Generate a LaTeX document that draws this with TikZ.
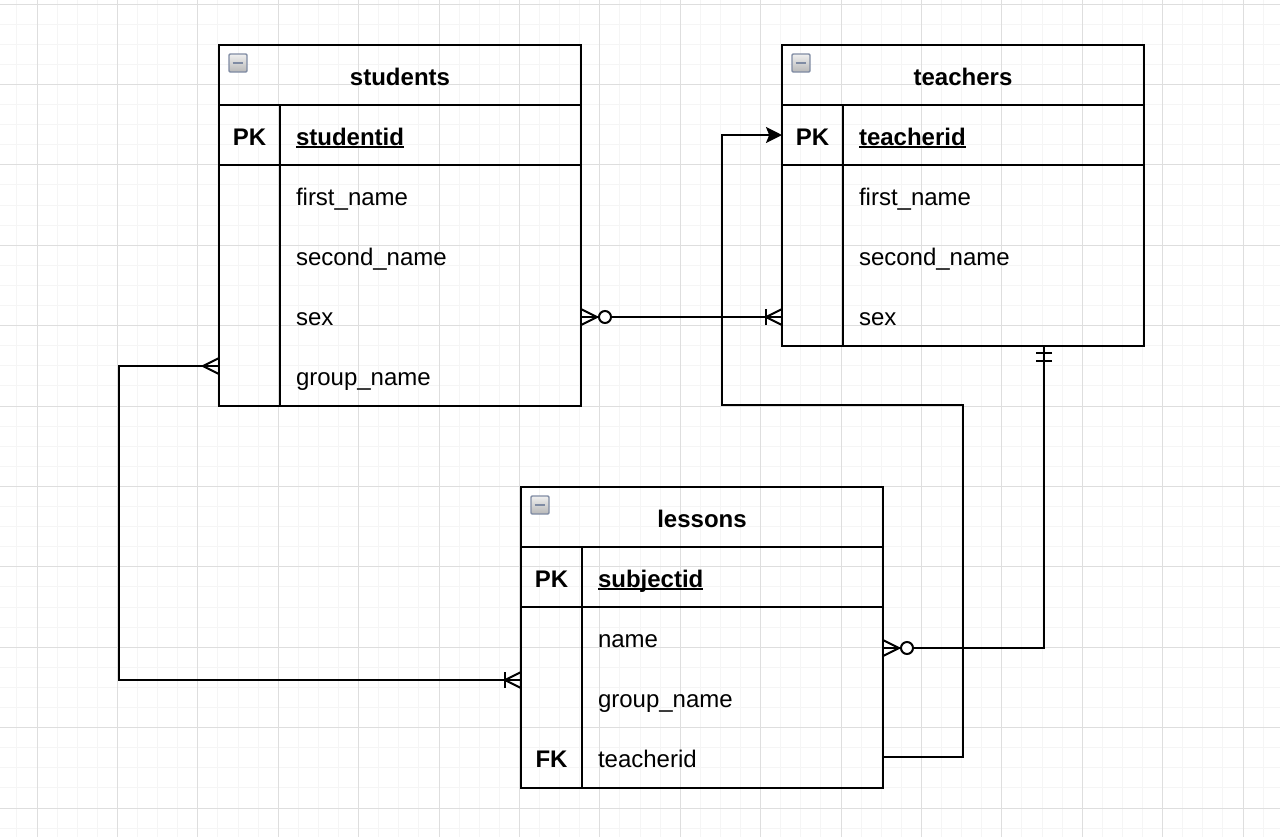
\documentclass[tikz,border=0pt]{standalone}
\usepackage{fontspec}
\setmainfont{Liberation Sans}
\usetikzlibrary{arrows.meta}

\definecolor{iconedge}{HTML}{7F8BA3}

% bold, underlined primary-key column name
\newcommand\keyfield[1]{\setbox0\hbox{\bfseries #1}\rlap{\rule[-1.6pt]{\wd0}{1pt}}\box0}

% entity table: #1 id, #2 x, #3 y, #4 title, #5 key column, #6 number of rows, #7 key/field list
\newcommand\ertable[7]{%
  \node[head] (#1) at (#2,#3) {#4};
  \node[iconbox] (#1-icon) at ([xshift=9.5pt,yshift=-9pt]#1.north west) {};
  \node[row] (#1-pk) at (#1.south west) {};
  \node[keylbl] (#1-pk-k) at ([xshift=15.25pt]#1-pk.west) {PK};
  \node[fieldlbl] (#1-pk-f) at ([xshift=38.5pt]#1-pk.west) {\keyfield{#5}};
  \foreach \k/\f [count=\i] in {#7} {
    \node[row] (#1-\i) at ([yshift={(1-\i)*30pt}]#1-pk.south west) {};
    \node[keylbl] (#1-\i-k) at ([xshift=15.25pt]#1-\i.west) {\k};
    \node[fieldlbl] (#1-\i-f) at ([xshift=38.5pt]#1-\i.west) {\f};
  }
  \draw[frame] (#1.north west) rectangle ([yshift=-0.5pt]#1-#6.south east);
  \draw[frame] (#1.south west) -- (#1.south east);
  \draw[frame] (#1-pk.south west) -- (#1-pk.south east);
  \draw[frame] ([xshift=30.5pt]#1-pk.north west) -- ([xshift=30.5pt,yshift=-0.5pt]#1-#6.south west);
}

\begin{document}
\begin{tikzpicture}[x=0.5pt,y=-0.5pt,
  minor/.style={line width=0.5pt, draw=black!4},
  major/.style={line width=0.5pt, draw=black!13},
  frame/.style={line width=1pt, draw=black},
  conn/.style={line width=1pt, draw=black},
  txt/.style={font=\fontsize{12pt}{14pt}\selectfont, text height=10pt, text depth=0pt, inner sep=0pt, outer sep=0pt},
  row/.style={minimum width=181pt, minimum height=30pt, anchor=north west, inner sep=0pt, outer sep=0pt},
  head/.style={row, txt, font=\fontsize{12pt}{14pt}\selectfont\bfseries},
  keylbl/.style={txt, font=\fontsize{12pt}{14pt}\selectfont\bfseries, anchor=center},
  fieldlbl/.style={txt, anchor=west},
  iconbox/.style={draw=iconedge, line width=0.7pt, rounded corners=0.6pt,
    top color=black!6, bottom color=black!28, minimum size=9pt, inner sep=0pt,
    path picture={\draw[line width=1.2pt] ([xshift=-2.7pt]path picture bounding box.center)
      -- ([xshift=2.7pt]path picture bounding box.center);}},
  crow/.pic={\draw[conn] (0pt,4pt) -- (8pt,0pt) -- (0pt,-4pt);},
  ring/.pic={\draw[conn,fill=white] (12pt,0pt) circle[radius=3pt];},
  bar/.pic={\draw[conn] (8pt,4pt) -- (8pt,-4pt);},
  barbar/.pic={\draw[conn] (3.5pt,4pt) -- (3.5pt,-4pt) (7.5pt,4pt) -- (7.5pt,-4pt);}
]
\useasboundingbox (0,0) rectangle (1280,837);

% background grid
\foreach \k in {-1,...,61} { \pgfmathsetmacro\gx{37+20.1*\k} \draw[minor] (\gx,0) -- (\gx,837); }
\foreach \k in {0,...,41} { \pgfmathsetmacro\gy{4+20.1*\k} \draw[minor] (0,\gy) -- (1280,\gy); }
\foreach \k in {0,...,15} { \pgfmathsetmacro\gx{37+80.4*\k} \draw[major] (\gx,0) -- (\gx,837); }
\foreach \k in {0,...,10} { \pgfmathsetmacro\gy{4+80.4*\k} \draw[major] (0,\gy) -- (1280,\gy); }

% tables
\ertable{s}{219}{45}{students}{studentid}{4}{/first\_name,/second\_name,/sex,/group\_name}
\ertable{t}{782}{45}{teachers}{teacherid}{3}{/first\_name,/second\_name,/sex}
\ertable{l}{521}{487}{lessons}{subjectid}{3}{/name,/group\_name,FK/teacherid}

% relationships
\draw[conn] ([yshift=-1pt]s-3.east) -- ([yshift=-1pt]t-3.west);
\draw[conn] ([yshift=4.5pt]s-4.west) -- ++(-50pt,0pt) |- ([yshift=8.5pt]l-2.west);
\draw[conn] ([yshift=-5.5pt]l-1.east) -| ([xshift=131pt,yshift=-0.5pt]t-3.south west);
\draw[conn, -{Stealth[length=8pt,width=8pt,inset=1.6pt]}] (l-3.east) -- ++(40pt,0pt)
  -- ++(0pt,176pt) -- ++(-120.5pt,0pt) |- (t-pk.west);

% cardinality marks
\pic at ([yshift=-1pt]s-3.east) {crow};
\pic at ([yshift=-1pt]s-3.east) {ring};
\pic[rotate=180] at ([yshift=-1pt]t-3.west) {crow};
\pic[rotate=180] at ([yshift=-1pt]t-3.west) {bar};
\pic[rotate=180] at ([yshift=4.5pt]s-4.west) {crow};
\pic[rotate=180] at ([yshift=8.5pt]l-2.west) {crow};
\pic[rotate=180] at ([yshift=8.5pt]l-2.west) {bar};
\pic at ([yshift=-5.5pt]l-1.east) {crow};
\pic at ([yshift=-5.5pt]l-1.east) {ring};
\pic[rotate=-90] at ([xshift=131pt,yshift=-0.5pt]t-3.south west) {barbar};
\end{tikzpicture}
\end{document}
